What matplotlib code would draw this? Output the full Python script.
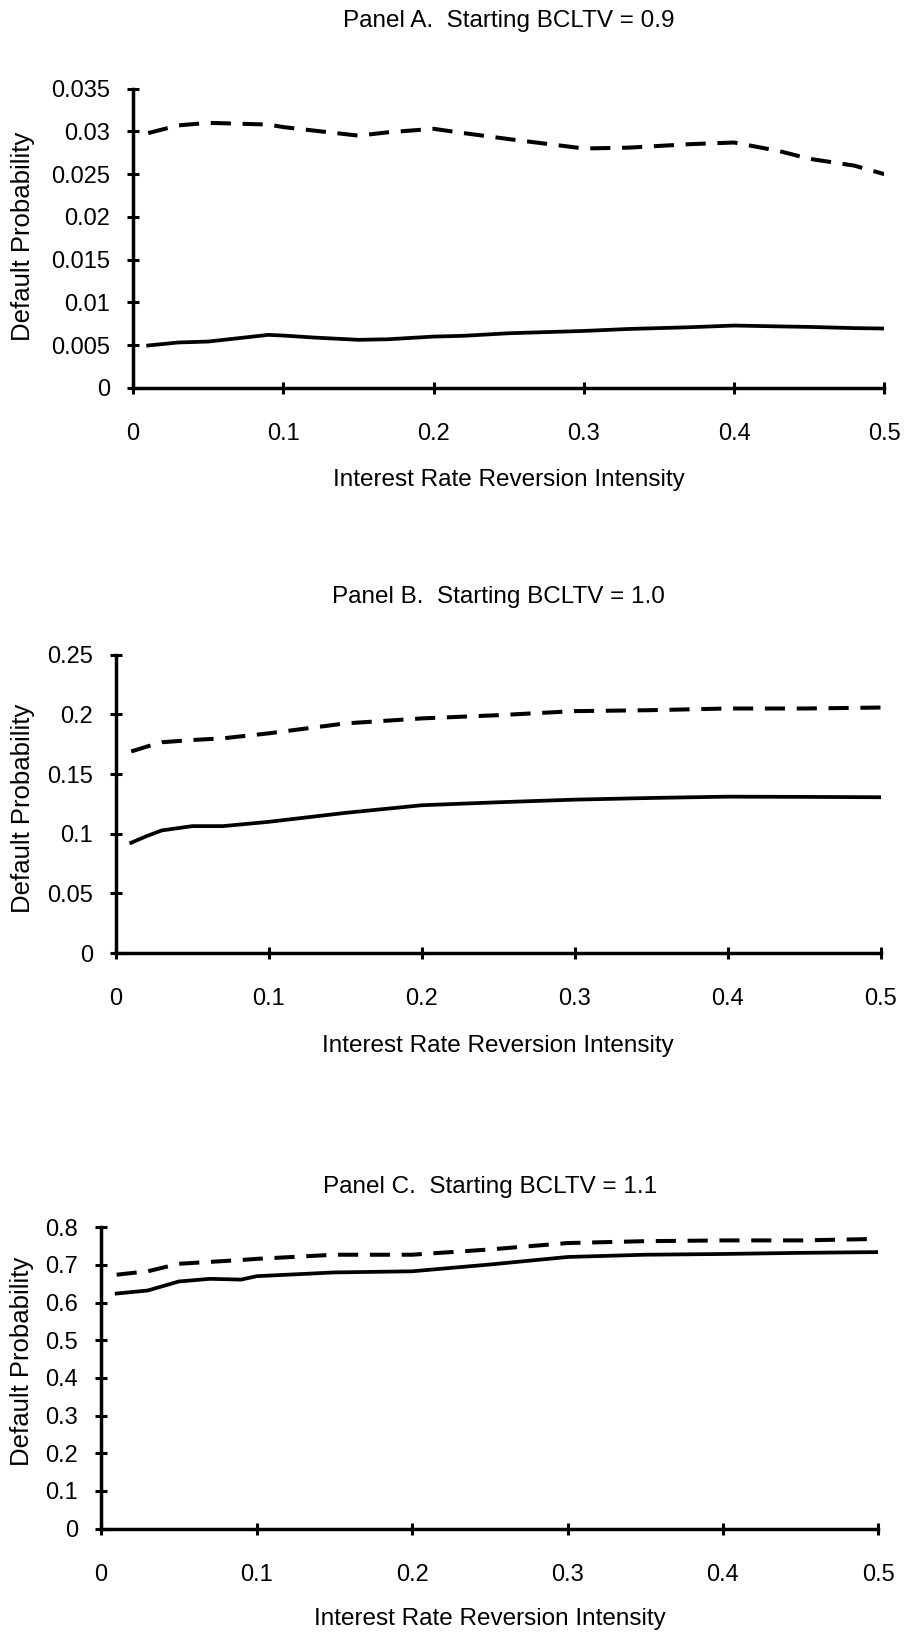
import matplotlib
matplotlib.use("Agg")
import matplotlib.pyplot as plt

plt.rcParams['font.family'] = ['Liberation Sans', 'DejaVu Sans']

# ---------------- data ----------------
x_a = [0.01, 0.03, 0.05, 0.07, 0.09, 0.10, 0.12, 0.15, 0.17, 0.20, 0.22, 0.25,
       0.30, 0.33, 0.37, 0.40, 0.43, 0.45, 0.48, 0.50]
dash_a = [0.0298, 0.0307, 0.0310, 0.0309, 0.0308, 0.0305, 0.0301, 0.0295, 0.0299,
          0.0303, 0.0298, 0.0291, 0.0280, 0.0281, 0.0285, 0.0287, 0.0277, 0.0268,
          0.0260, 0.0250]
solid_a = [0.00497, 0.00532, 0.00543, 0.00582, 0.00621, 0.00613, 0.00590, 0.00563,
           0.00570, 0.00601, 0.00610, 0.00640, 0.00667, 0.00690, 0.00710, 0.00730,
           0.00720, 0.00714, 0.00700, 0.00695]

x_b = [0.01, 0.02, 0.03, 0.05, 0.07, 0.10, 0.15, 0.20, 0.25, 0.30, 0.35, 0.40, 0.45, 0.50]
dash_b = [0.169, 0.173, 0.1767, 0.1786, 0.180, 0.1842, 0.1925, 0.1967, 0.1994,
          0.2028, 0.2036, 0.205, 0.205, 0.2058]
solid_b = [0.0925, 0.098, 0.1028, 0.1064, 0.1064, 0.110, 0.1175, 0.1239, 0.1264,
           0.1286, 0.130, 0.1311, 0.1309, 0.1306]

x_c = [0.01, 0.03, 0.05, 0.07, 0.09, 0.10, 0.15, 0.20, 0.25, 0.30, 0.35, 0.40, 0.45, 0.50]
dash_c = [0.674, 0.683, 0.703, 0.708, 0.713, 0.716, 0.727, 0.727, 0.741, 0.758,
          0.763, 0.765, 0.765, 0.769]
solid_c = [0.624, 0.632, 0.656, 0.663, 0.661, 0.670, 0.680, 0.683, 0.701, 0.721,
           0.727, 0.729, 0.732, 0.734]

x_ticks = [0, 0.1, 0.2, 0.3, 0.4, 0.5]
x_ticklabels = ['0', '0.1', '0.2', '0.3', '0.4', '0.5']
yt_a = [0, 0.005, 0.01, 0.015, 0.02, 0.025, 0.03, 0.035]
ytl_a = ['0', '0.005', '0.01', '0.015', '0.02', '0.025', '0.03', '0.035']
yt_b = [0, 0.05, 0.1, 0.15, 0.2, 0.25]
ytl_b = ['0', '0.05', '0.1', '0.15', '0.2', '0.25']
yt_c = [0, 0.1, 0.2, 0.3, 0.4, 0.5, 0.6, 0.7, 0.8]
ytl_c = ['0', '0.1', '0.2', '0.3', '0.4', '0.5', '0.6', '0.7', '0.8']

titles = ['Panel A.  Starting BCLTV = 0.9',
          'Panel B.  Starting BCLTV = 1.0',
          'Panel C.  Starting BCLTV = 1.1']
xlabel = 'Interest Rate Reversion Intensity'
ylabel = 'Default Probability'

# ---------------- layout ----------------
W, H = 906, 1635
fig = plt.figure(figsize=(W / 100, H / 100), dpi=100)
fig.patch.set_facecolor('white')

panels = [
    dict(rect=[0.147, 0.7627, 0.829, 0.1831], x=x_a, d=dash_a, s=solid_a,
         yt=yt_a, ytl=ytl_a, title_y=21, xlab_y=480, ylab_y=236, ylab_x=23),
    dict(rect=[0.128, 0.4171, 0.844, 0.1824], x=x_b, d=dash_b, s=solid_b,
         yt=yt_b, ytl=ytl_b, title_y=597, xlab_y=1046, ylab_y=808, ylab_x=23),
    dict(rect=[0.1116, 0.0651, 0.858, 0.1843], x=x_c, d=dash_c, s=solid_c,
         yt=yt_c, ytl=ytl_c, title_y=1187, xlab_y=1619, ylab_y=1361, ylab_x=22),
]

for i, p in enumerate(panels):
    ax = fig.add_axes(p['rect'])
    ax.plot(p['x'], p['d'], color='black', lw=2.9, linestyle=(0, (5.0, 2.9)),
            solid_capstyle='butt', dash_capstyle='butt')
    ax.plot(p['x'], p['s'], color='black', lw=2.7)
    ax.set_xlim(0, 0.5)
    ax.set_ylim(p['yt'][0], p['yt'][-1])
    ax.set_xticks(x_ticks)
    ax.set_xticklabels(x_ticklabels)
    ax.set_yticks(p['yt'])
    ax.set_yticklabels(p['ytl'])
    for side in ['top', 'right']:
        ax.spines[side].set_visible(False)
    for side in ['left', 'bottom']:
        ax.spines[side].set_linewidth(2.5)
    ax.tick_params(axis='both', direction='inout', length=9, width=2.2,
                   labelsize=17)
    ax.tick_params(axis='x', pad=21)
    ax.tick_params(axis='y', pad=12)
    ax.patch.set_alpha(0)

    l, b, w, h = p['rect']
    cx = l + w / 2
    fig.text(cx, 1 - p['title_y'] / H, titles[i], ha='center', va='center',
             fontsize=17.5)
    fig.text(cx, 1 - p['xlab_y'] / H, xlabel, ha='center', va='center',
             fontsize=17.5)
    fig.text(p['ylab_x'] / W, 1 - p['ylab_y'] / H, ylabel, ha='center',
             va='center', rotation=90, fontsize=18.5)

fig.savefig('out.png', dpi=100, facecolor='white')
